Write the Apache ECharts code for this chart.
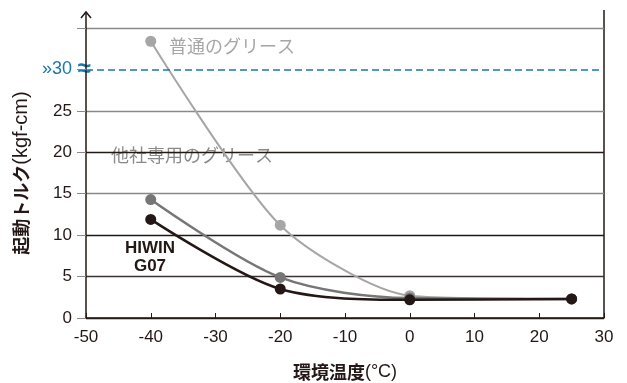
<!DOCTYPE html>
<html><head><meta charset="utf-8">
<script src="https://cdn.jsdelivr.net/npm/echarts@6/dist/echarts.min.js"></script>
<style>html,body{margin:0;padding:0;background:#fff}#c{width:627px;height:383px}</style>
</head><body><div id="c"></div>
<script>
const temps = [-40, -20, 0, 25];
const normalGrease = [33.4, 11.2, 2.7, 2.3];
const otherGrease = [14.3, 4.9, 2.4, 2.3];
const hiwinG07 = [11.9, 3.5, 2.2, 2.3];
const yTicks = [0, 5, 10, 15, 20, 25, 30, 35];
const xTicks = [-50, -40, -30, -20, -10, 0, 10, 20, 30];

const font = '"Liberation Sans", Arial, "Noto Sans CJK JP", sans-serif';
const cjk = '"Noto Sans CJK JP", "Liberation Sans", sans-serif';
const pair = arr => temps.map((t, i) => [t, arr[i]]);

const chart = echarts.init(document.getElementById('c'));
const mk = (name, data, color, w, z, sm) => ({
  name, type: 'line', data: pair(data), smooth: sm, z,
  symbol: 'circle', symbolSize: 11,
  lineStyle: { color, width: w }, itemStyle: { color }
});
chart.setOption({
  animation: false,
  grid: { left: 86, right: 23, top: 28, bottom: 65, containLabel: false, outerBoundsMode: 'none' },
  xAxis: {
    type: 'value', min: -50, max: 30, interval: 10,
    axisLine: { show: true, onZero: false, lineStyle: { color: '#231815', width: 1.5 } },
    axisTick: { show: true, inside: true, length: 5, lineStyle: { color: '#231815' } },
    axisLabel: { color: '#231815', fontSize: 17, fontFamily: font, margin: 11 },
    splitLine: { show: false },
    name: '{c|環境温度}{l|(°C)}', nameLocation: 'middle', nameGap: 45,
    nameTextStyle: { rich: {
      c: { color: '#231815', fontSize: 18, fontWeight: 'bold', fontFamily: cjk },
      l: { color: '#231815', fontSize: 18, fontFamily: font } } }
  },
  yAxis: {
    type: 'value', min: 0, max: 35, interval: 5,
    axisLine: { show: true, onZero: false, lineStyle: { color: '#231815', width: 1.5 } },
    axisTick: { show: true, length: 9, lineStyle: { color: '#8c8888' } },
    axisLabel: {
      fontSize: 17, fontFamily: font, margin: 14, color: '#231815',
      formatter: v => v === 35 ? '' : (v === 30 ? '{b|»30}' : String(v)),
      rich: { b: { color: '#1a78a6', fontSize: 18, fontFamily: font } }
    },
    splitLine: { show: true, lineStyle: { width: 1.3, color: ['#231815', '#3a3332', '#231815', '#8c8888', '#231815', '#8c8888', 'rgba(0,0,0,0)', '#8c8888'] } },
    name: '{c|起動トルク}{l|(kgf-cm)}', nameLocation: 'middle', nameGap: 52, nameRotate: 90,
    nameTextStyle: { rich: {
      c: { color: '#231815', fontSize: 18, fontWeight: 'bold', fontFamily: cjk },
      l: { color: '#231815', fontSize: 20, fontFamily: font } } }
  },
  series: [
    Object.assign(mk('普通のグリース', normalGrease, '#a6a6a6', 2, 3, 0.25), {
      markLine: { silent: true, symbol: 'none', label: { show: false },
        lineStyle: { color: '#1a78a6', type: [7, 4], width: 1.5 }, data: [{ yAxis: 30 }] }
    }),
    mk('他社専用のグリース', otherGrease, '#767676', 2.5, 4, 0.3),
    mk('HIWIN G07', hiwinG07, '#231815', 2.5, 5, 0.3)
  ],
  graphic: [
    { type: 'line', shape: { x1: 86, y1: 28, x2: 86, y2: 12 }, style: { stroke: '#231815', lineWidth: 1.5 } },
    { type: 'polyline', shape: { points: [[81, 18], [86, 12], [91, 18]] }, style: { stroke: '#231815', lineWidth: 1.5, fill: null } },
    { type: 'line', shape: { x1: 604, y1: 10, x2: 604, y2: 318 }, style: { stroke: '#231815', lineWidth: 1.5 } },
    { type: 'text', x: 84, y: 69, style: { text: '≈', fill: '#1a78a6', font: 'bold 24px ' + font, textAlign: 'center', textVerticalAlign: 'middle' } },
    { type: 'text', x: 169, y: 46, style: { text: '普通のグリース', fill: '#a6a6a6', font: '18px ' + cjk, textVerticalAlign: 'middle' } },
    { type: 'text', x: 111, y: 155, style: { text: '他社専用のグリース', fill: '#8a8a8a', font: '18px ' + cjk, textVerticalAlign: 'middle' } },
    { type: 'text', x: 150, y: 257, style: { text: 'HIWIN\nG07', fill: '#231815', font: 'bold 17px ' + font, textAlign: 'center', textVerticalAlign: 'middle', lineHeight: 18 } }
  ]
});
</script></body></html>
